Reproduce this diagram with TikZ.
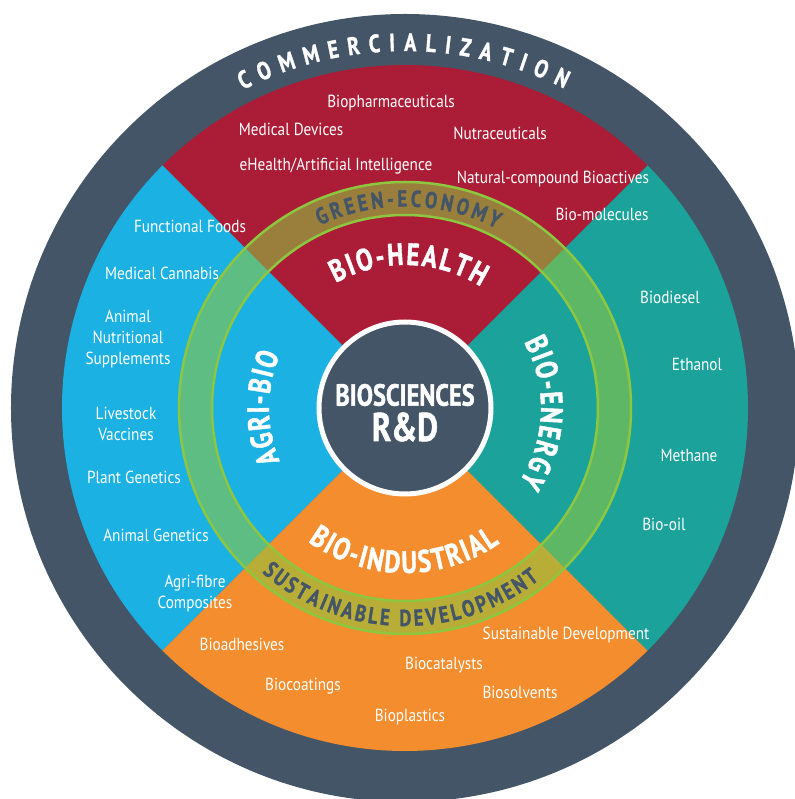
\documentclass[tikz,border=0pt]{standalone}
\usepackage{fontspec}
\setmainfont{PT Sans}[FakeStretch=0.87]
\newfontfamily\hfont{PT Sans}[FakeStretch=0.8, BoldFeatures={FakeBold=1.3}]
\usetikzlibrary{decorations.text}
\definecolor{slate}{HTML}{435567}
\definecolor{hred}{HTML}{AB1D36}
\definecolor{hblue}{HTML}{1BB1E3}
\definecolor{hteal}{HTML}{1BA39B}
\definecolor{horange}{HTML}{F48D2D}
\definecolor{hlime}{HTML}{8DC63F}
\newcommand\lblfont{\fontsize{17.5}{21}\selectfont}
\newcommand\commfont{\hfont\bfseries\fontsize{25}{25}\selectfont\color{white}}
\newcommand\ringfont{\hfont\bfseries\fontsize{23}{23}\selectfont\color{slate}}
\newcommand\sectfont{\hfont\bfseries\fontsize{31}{31}\selectfont\color{white}}
\begin{document}
\begin{tikzpicture}[x=1pt,y=1pt,
  lbl/.style={text=white, font=\lblfont, align=center, inner sep=0pt, text height=12pt, text depth=4pt},
  arctext/.style={decorate, decoration={text along path, text={#1}, text align=fit to path}}]
\useasboundingbox (-405,-391) rectangle (389,408);
% outer ring
\fill[slate] (0,0) circle (394);
% quadrants
\fill[hred] (0,0) -- (45:343) arc (45:135:343) -- cycle;
\fill[hblue] (0,0) -- (135:343) arc (135:225:343) -- cycle;
\fill[horange] (0,0) -- (225:343) arc (225:315:343) -- cycle;
\fill[hteal] (0,0) -- (-45:343) arc (-45:45:343) -- cycle;
% green ring
\fill[hlime, opacity=.58, even odd rule] (0,0) circle (226) (0,0) circle (193);
\draw[hlime, line width=2.5pt] (0,0) circle (226) (0,0) circle (193);
% core
\node[circle, fill=slate, draw=white, line width=5pt, minimum size=172pt, inner sep=0pt] (core) at (0,0) {};
\node[font=\hfont\bfseries\fontsize{30.5}{30}\selectfont, text=white, inner sep=0pt] (bio) at (0,13) {BIOSCIENCES};
\node[font=\hfont\bfseries\fontsize{40}{40}\selectfont, text=white, inner sep=0pt] (rd) at (0,-19) {R\&D};
% curved titles
\path[arctext={|\commfont|COMMERCIALIZATION}] (117:357) arc (117:63.5:357);
\path[arctext={|\ringfont|GREEN-ECONOMY}] (115:201.5) arc (115:63:201.5);
\path[arctext={|\ringfont|SUSTAINABLE DEVELOPMENT}] (229:218) arc (229:308:218);
\path[arctext={|\sectfont|BIO-HEALTH}] (119:143) arc (119:58:143);
\path[arctext={|\sectfont|AGRI-BIO}] (203:136) arc (203:157:136);
\path[arctext={|\sectfont|BIO-ENERGY}] (29:136) arc (29:-33:136);
\path[arctext={|\sectfont|BIO-INDUSTRIAL}] (234:165) arc (234:305:165);
% bio-health items
\node[lbl] (l1) at (-14,304) {Biopharmaceuticals};
\node[lbl] (l2) at (-114,276) {Medical Devices};
\node[lbl] (l3) at (95,272) {Nutraceuticals};
\node[lbl] (l4) at (-69,241) {eHealth/Artificial Intelligence};
\node[lbl] (l5) at (148,228) {Natural-compound Bioactives};
\node[lbl] (l6) at (197,191) {Bio-molecules};
% agri-bio items
\node[lbl] (a1) at (-215,179) {Functional Foods};
\node[lbl] (a2) at (-243,132) {Medical Cannabis};
\node[lbl, text height=, text depth=] (a3) at (-277,69) {Animal\\Nutritional\\Supplements};
\node[lbl, text height=, text depth=] (a4) at (-279,-16) {Livestock\\Vaccines};
\node[lbl] (a5) at (-271,-72) {Plant Genetics};
\node[lbl] (a6) at (-249,-129) {Animal Genetics};
\node[lbl, text height=, text depth=] (a7) at (-210,-186) {Agri-fibre\\Composites};
% bio-energy items
\node[lbl] (e1) at (265,108) {Biodiesel};
\node[lbl] (e2) at (292,41) {Ethanol};
\node[lbl] (e3) at (284,-50) {Methane};
\node[lbl] (e4) at (259,-118) {Bio-oil};
% bio-industrial items
\node[lbl] (i1) at (161,-227) {Sustainable Development};
\node[lbl] (i2) at (-163,-238) {Bioadhesives};
\node[lbl] (i3) at (39,-257) {Biocatalysts};
\node[lbl] (i4) at (-102,-278) {Biocoatings};
\node[lbl] (i5) at (115,-286) {Biosolvents};
\node[lbl] (i6) at (5,-309) {Bioplastics};
\end{tikzpicture}
\end{document}
